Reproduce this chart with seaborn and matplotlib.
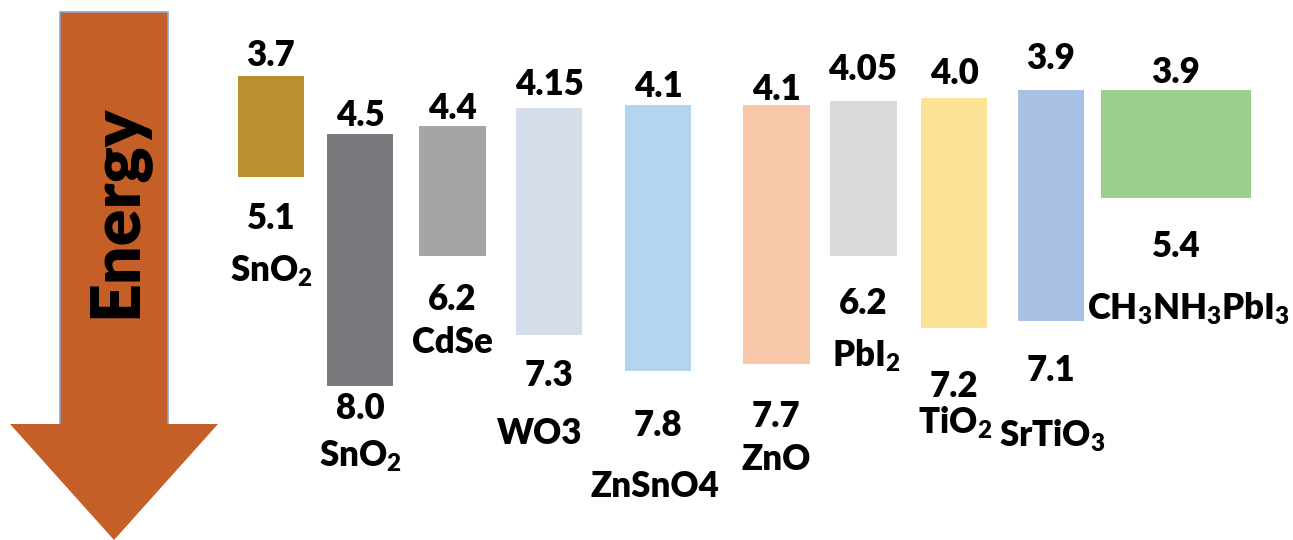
import matplotlib
matplotlib.use("Agg")
import matplotlib.pyplot as plt
import seaborn as sns
from matplotlib.patches import Polygon, Rectangle

# ============================================
# DATA (band edges in eV)
# ============================================

materials = ["SnO$_2$", "SnO$_2$", "CdSe", "WO3", "ZnSnO4", "ZnO",
             "PbI$_2$", "TiO$_2$", "SrTiO$_3$", "CH$_3$NH$_3$PbI$_3$"]
cb_edge = [3.7, 4.5, 4.4, 4.15, 4.1, 4.1, 4.05, 4.0, 3.9, 3.9]
vb_edge = [5.1, 8.0, 6.2, 7.3, 7.8, 7.7, 6.2, 7.2, 7.1, 5.4]
cb_text = ["3.7", "4.5", "4.4", "4.15", "4.1", "4.1", "4.05", "4.0", "3.9", "3.9"]
vb_text = ["5.1", "8.0", "6.2", "7.3", "7.8", "7.7", "6.2", "7.2", "7.1", "5.4"]
colors = ["#B8902F", "#77797D", "#A5A5A8", "#D5DDEB", "#B3D5F0",
          "#F8C6A8", "#D8DADC", "#FCE296", "#A8C0E4", "#9BCF8E"]

# ============================================
# LAYOUT (pixels)
# ============================================

x_center = [271, 360, 452, 549, 658, 776, 863, 954, 1051, 1176]
bar_w = [66, 66, 67, 66, 66, 67, 67, 66, 66, 150]
top_off = [-25, -22, -22, -28, -22, -19, -36, -28, -36, -22]
bot_off = [38, 19, 40, 36, 50, 49, 44, 55, 46, 44]
name_off = [90, 67, 83, 94, 111, 92, 96, 91, 111, 106]
name_dx = [0, 0, 0, -9, -3, 0, 3, 1, 1, 12]
nudge = 4  # bbox centre sits above the visual centre of the glyphs

sns.set_theme(style="white")
plt.rcParams["font.family"] = ["Lato", "DejaVu Sans"]
plt.rcParams["mathtext.default"] = "regular"
plt.rcParams["text.color"] = "black"

W, H = 1293, 540
fig = plt.figure(figsize=(W / 100, H / 100), dpi=100)

# energy axis: 72 px per eV, 3.7 eV at y=76 px
px_per_ev = 72.0
ax = fig.add_axes([0, 0, 1, 1])
ax.set_xlim(0, W)
ax.set_ylim(3.7 + (H - 76) / px_per_ev, 3.7 - 76 / px_per_ev)
ax.axis("off")

heights = [b - t for t, b in zip(cb_edge, vb_edge)]
ax.bar(x_center, heights, bottom=cb_edge, width=bar_w, color=colors,
       linewidth=0)

fs = 25
wt = "heavy"
for i in range(len(materials)):
    ax.annotate(cb_text[i], (x_center[i], cb_edge[i]),
                xytext=(0, -(top_off[i] + nudge) * 0.72), textcoords="offset points",
                ha="center", va="center", fontsize=fs, fontweight=wt)
    ax.annotate(vb_text[i], (x_center[i], vb_edge[i]),
                xytext=(0, -(bot_off[i] + nudge) * 0.72), textcoords="offset points",
                ha="center", va="center", fontsize=fs, fontweight=wt)
    ax.annotate(materials[i], (x_center[i], vb_edge[i]),
                xytext=(name_dx[i] * 0.72, -(name_off[i] + nudge) * 0.72),
                textcoords="offset points",
                ha="center", va="center", fontsize=fs, fontweight=wt)

# ============================================
# ENERGY ARROW (overlay in pixel coords)
# ============================================

ov = fig.add_axes([0, 0, 1, 1], facecolor="none")
ov.set_xlim(0, W)
ov.set_ylim(H, 0)
ov.axis("off")
arrow_c = "#C55F28"
ov.add_patch(Rectangle((60, 12), 108, 415, facecolor=arrow_c,
                       edgecolor="#8FA3CC", linewidth=1.2))
ov.add_patch(Polygon([(10, 424), (218, 424), (114, 540)], closed=True,
                     facecolor=arrow_c, edgecolor="none"))
ov.text(117, 211, "Energy", rotation=90, ha="center", va="center",
        fontsize=49, fontweight=wt, color="black")

fig.savefig("out.png", dpi=100)
